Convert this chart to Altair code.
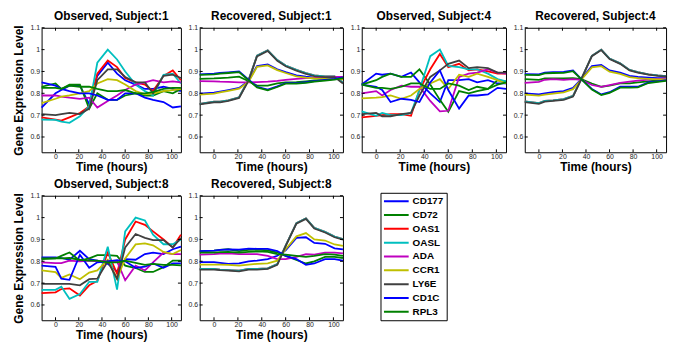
import altair as alt
import pandas as pd

TIMES = [-12, 0, 5, 12, 21, 29, 36, 45, 53, 60, 69, 77, 84, 93, 101, 108]
GENES = ["CD177", "CD72", "OAS1", "OASL", "ADA", "CCR1", "LY6E", "CD1C", "RPL3"]
COLORS = ["#0000ff", "#008000", "#ff0000", "#00bfbf", "#bf00bf", "#bfbf00", "#404040", "#0000ff", "#008000"]
X_TICKS = [0, 20, 40, 60, 80, 100]
Y_TICKS = [0.6, 0.7, 0.8, 0.9, 1.0, 1.1]
X_DOMAIN = [-12, 108]
Y_DOMAIN = [0.53, 1.1]

obs1 = {
    "CD177": [0.735, 0.80, 0.815, 0.835, 0.835, 0.75, 0.88, 0.94, 0.89, 0.86, 0.84, 0.82, 0.82, 0.83, 0.82, 0.81],
    "CD72": [0.83, 0.845, 0.82, 0.84, 0.84, 0.73, 0.80, 0.77, 0.77, 0.79, 0.80, 0.79, 0.79, 0.81, 0.80, 0.82],
    "OAS1": [0.69, 0.68, 0.675, 0.69, 0.71, 0.74, 0.89, 0.95, 0.92, 0.87, 0.85, 0.84, 0.81, 0.88, 0.905, 0.86],
    "OASL": [0.68, 0.678, 0.67, 0.665, 0.695, 0.74, 0.94, 1.0, 0.955, 0.90, 0.84, 0.81, 0.79, 0.885, 0.89, 0.845],
    "ADA": [0.79, 0.79, 0.785, 0.78, 0.775, 0.78, 0.735, 0.765, 0.79, 0.815, 0.84, 0.85, 0.86, 0.85, 0.855, 0.85],
    "CCR1": [0.755, 0.775, 0.785, 0.79, 0.80, 0.81, 0.845, 0.865, 0.86, 0.84, 0.81, 0.795, 0.80, 0.81, 0.815, 0.82],
    "LY6E": [0.705, 0.70, 0.705, 0.71, 0.705, 0.73, 0.86, 0.91, 0.91, 0.875, 0.85, 0.85, 0.80, 0.88, 0.885, 0.87],
    "CD1C": [0.85, 0.835, 0.82, 0.81, 0.80, 0.80, 0.79, 0.77, 0.77, 0.80, 0.80, 0.78, 0.77, 0.76, 0.735, 0.74],
    "RPL3": [0.825, 0.825, 0.82, 0.835, 0.83, 0.83, 0.82, 0.81, 0.81, 0.815, 0.80, 0.80, 0.805, 0.82, 0.825, 0.825],
}

rec1 = {
    "CD177": [0.798, 0.803, 0.808, 0.815, 0.825, 0.857, 0.925, 0.932, 0.91, 0.897, 0.882, 0.876, 0.872, 0.871, 0.87, 0.868],
    "CD72": [0.866, 0.868, 0.87, 0.872, 0.876, 0.855, 0.835, 0.835, 0.845, 0.85, 0.851, 0.855, 0.859, 0.862, 0.866, 0.872],
    "OAS1": [0.752, 0.762, 0.762, 0.768, 0.782, 0.862, 0.972, 0.997, 0.952, 0.927, 0.907, 0.892, 0.882, 0.877, 0.877, 0.85],
    "OASL": [0.752, 0.762, 0.762, 0.768, 0.782, 0.862, 0.972, 0.997, 0.952, 0.927, 0.907, 0.892, 0.882, 0.877, 0.877, 0.85],
    "ADA": [0.856, 0.855, 0.853, 0.852, 0.85, 0.85, 0.851, 0.853, 0.857, 0.862, 0.866, 0.869, 0.871, 0.873, 0.875, 0.875],
    "CCR1": [0.794, 0.799, 0.804, 0.811, 0.821, 0.853, 0.921, 0.928, 0.906, 0.893, 0.878, 0.872, 0.868, 0.867, 0.866, 0.864],
    "LY6E": [0.749, 0.759, 0.759, 0.765, 0.779, 0.859, 0.969, 0.994, 0.949, 0.924, 0.904, 0.889, 0.879, 0.874, 0.874, 0.845],
    "CD1C": [0.887, 0.89, 0.893, 0.896, 0.90, 0.862, 0.83, 0.817, 0.832, 0.847, 0.847, 0.851, 0.856, 0.861, 0.866, 0.873],
    "RPL3": [0.884, 0.887, 0.89, 0.893, 0.897, 0.859, 0.827, 0.814, 0.829, 0.844, 0.844, 0.848, 0.853, 0.858, 0.863, 0.87],
}

obs4 = {
    "CD177": [0.84, 0.89, 0.885, 0.89, 0.875, 0.895, 0.85, 0.80, 0.76, 0.86, 0.86, 0.865, 0.85, 0.86, 0.845, 0.845],
    "CD72": [0.84, 0.86, 0.875, 0.89, 0.875, 0.875, 0.91, 0.84, 0.77, 0.715, 0.81, 0.80, 0.81, 0.82, 0.86, 0.855],
    "OAS1": [0.69, 0.697, 0.70, 0.705, 0.705, 0.697, 0.815, 0.91, 0.98, 0.92, 0.935, 0.905, 0.91, 0.90, 0.89, 0.89],
    "OASL": [0.717, 0.697, 0.71, 0.70, 0.70, 0.71, 0.815, 0.97, 1.0, 0.925, 0.92, 0.91, 0.91, 0.89, 0.865, 0.855],
    "ADA": [0.80, 0.81, 0.79, 0.815, 0.835, 0.83, 0.83, 0.765, 0.717, 0.72, 0.875, 0.89, 0.895, 0.91, 0.895, 0.89],
    "CCR1": [0.777, 0.78, 0.782, 0.79, 0.775, 0.79, 0.82, 0.845, 0.865, 0.82, 0.885, 0.875, 0.89, 0.875, 0.86, 0.845],
    "LY6E": [0.705, 0.71, 0.695, 0.695, 0.705, 0.71, 0.79, 0.875, 0.905, 0.935, 0.95, 0.915, 0.92, 0.915, 0.895, 0.895],
    "CD1C": [0.84, 0.83, 0.815, 0.76, 0.775, 0.77, 0.76, 0.85, 0.905, 0.815, 0.73, 0.79, 0.79, 0.795, 0.825, 0.82],
    "RPL3": [0.84, 0.825, 0.825, 0.82, 0.83, 0.845, 0.845, 0.82, 0.82, 0.845, 0.835, 0.815, 0.83, 0.82, 0.84, 0.85],
}

rec4 = {
    "CD177": [0.80, 0.795, 0.80, 0.805, 0.81, 0.825, 0.865, 0.925, 0.93, 0.905, 0.895, 0.88, 0.875, 0.872, 0.87, 0.87],
    "CD72": [0.865, 0.862, 0.868, 0.868, 0.868, 0.87, 0.865, 0.845, 0.83, 0.835, 0.845, 0.845, 0.85, 0.855, 0.86, 0.865],
    "OAS1": [0.763, 0.755, 0.765, 0.768, 0.773, 0.788, 0.865, 0.972, 1.0, 0.959, 0.937, 0.907, 0.897, 0.887, 0.882, 0.879],
    "OASL": [0.763, 0.755, 0.765, 0.768, 0.773, 0.788, 0.865, 0.972, 1.0, 0.959, 0.937, 0.907, 0.897, 0.887, 0.882, 0.879],
    "ADA": [0.848, 0.852, 0.862, 0.865, 0.862, 0.865, 0.862, 0.838, 0.83, 0.838, 0.848, 0.853, 0.858, 0.863, 0.866, 0.868],
    "CCR1": [0.794, 0.789, 0.794, 0.799, 0.804, 0.819, 0.862, 0.919, 0.924, 0.899, 0.889, 0.874, 0.869, 0.866, 0.864, 0.864],
    "LY6E": [0.76, 0.752, 0.762, 0.765, 0.77, 0.785, 0.865, 0.97, 0.998, 0.957, 0.935, 0.905, 0.895, 0.885, 0.88, 0.877],
    "CD1C": [0.888, 0.887, 0.895, 0.897, 0.898, 0.905, 0.865, 0.82, 0.795, 0.805, 0.83, 0.83, 0.83, 0.85, 0.855, 0.86],
    "RPL3": [0.884, 0.883, 0.891, 0.893, 0.894, 0.901, 0.865, 0.817, 0.792, 0.802, 0.826, 0.826, 0.827, 0.847, 0.852, 0.857],
}

obs8 = {
    "CD177": [0.818, 0.818, 0.815, 0.807, 0.848, 0.81, 0.803, 0.788, 0.754, 0.81, 0.807, 0.833, 0.84, 0.833, 0.855, 0.867],
    "CD72": [0.813, 0.813, 0.825, 0.84, 0.803, 0.813, 0.828, 0.828, 0.825, 0.78, 0.769, 0.751, 0.751, 0.773, 0.803, 0.803],
    "OAS1": [0.654, 0.658, 0.673, 0.676, 0.643, 0.69, 0.71, 0.84, 0.743, 0.90, 0.982, 0.967, 0.937, 0.90, 0.863, 0.922],
    "OASL": [0.669, 0.669, 0.684, 0.628, 0.65, 0.706, 0.706, 0.867, 0.67, 0.937, 1.0, 0.987, 0.922, 0.878, 0.878, 0.90],
    "ADA": [0.795, 0.792, 0.792, 0.803, 0.80, 0.803, 0.80, 0.803, 0.80, 0.713, 0.78, 0.758, 0.795, 0.84, 0.833, 0.833],
    "CCR1": [0.758, 0.75, 0.724, 0.74, 0.718, 0.748, 0.758, 0.807, 0.72, 0.813, 0.877, 0.882, 0.873, 0.843, 0.833, 0.852],
    "LY6E": [0.697, 0.697, 0.697, 0.697, 0.69, 0.718, 0.72, 0.80, 0.72, 0.863, 0.925, 0.907, 0.897, 0.897, 0.863, 0.907],
    "CD1C": [0.78, 0.775, 0.72, 0.715, 0.83, 0.77, 0.795, 0.80, 0.805, 0.80, 0.77, 0.775, 0.79, 0.77, 0.79, 0.79],
    "RPL3": [0.81, 0.813, 0.813, 0.815, 0.807, 0.803, 0.803, 0.795, 0.795, 0.803, 0.793, 0.784, 0.788, 0.784, 0.784, 0.781],
}

rec8 = {
    "CD177": [0.796, 0.796, 0.793, 0.788, 0.79, 0.80, 0.803, 0.81, 0.825, 0.85, 0.907, 0.91, 0.884, 0.88, 0.859, 0.855],
    "CD72": [0.847, 0.849, 0.852, 0.855, 0.847, 0.852, 0.853, 0.85, 0.84, 0.825, 0.806, 0.79, 0.80, 0.82, 0.82, 0.815],
    "OAS1": [0.765, 0.765, 0.762, 0.76, 0.757, 0.765, 0.765, 0.768, 0.787, 0.872, 0.975, 0.997, 0.953, 0.935, 0.913, 0.902],
    "OASL": [0.765, 0.765, 0.762, 0.76, 0.757, 0.765, 0.765, 0.768, 0.787, 0.872, 0.975, 0.997, 0.953, 0.935, 0.913, 0.902],
    "ADA": [0.83, 0.833, 0.835, 0.836, 0.833, 0.833, 0.833, 0.825, 0.81, 0.81, 0.82, 0.833, 0.83, 0.84, 0.84, 0.836],
    "CCR1": [0.785, 0.785, 0.785, 0.784, 0.78, 0.785, 0.788, 0.79, 0.803, 0.855, 0.914, 0.929, 0.90, 0.895, 0.877, 0.87],
    "LY6E": [0.762, 0.762, 0.759, 0.757, 0.754, 0.762, 0.762, 0.765, 0.784, 0.869, 0.972, 0.994, 0.95, 0.932, 0.91, 0.899],
    "CD1C": [0.847, 0.849, 0.852, 0.855, 0.853, 0.858, 0.857, 0.857, 0.847, 0.825, 0.81, 0.784, 0.79, 0.81, 0.81, 0.803],
    "RPL3": [0.84, 0.84, 0.842, 0.843, 0.84, 0.843, 0.845, 0.843, 0.833, 0.83, 0.825, 0.82, 0.825, 0.833, 0.83, 0.825],
}

PANELS = [
    (obs1, "Observed, Subject:1", 141, 126, True),
    (rec1, "Recovered, Subject:1", 145, 126, False),
    (obs4, "Observed, Subject:4", 146, 126, False),
    (rec4, "Recovered, Subject:4", 143, 126, False),
    (obs8, "Observed, Subject:8", 141, 126, True),
    (rec8, "Recovered, Subject:8", 145, 126, False),
]

FONT = "Liberation Sans"

legend = alt.Legend(
    orient="none", legendX=343, legendY=167, symbolType="stroke", symbolSize=625,
    symbolStrokeWidth=2, labelFontSize=10, labelFontWeight="bold", labelColor="black",
    labelFont=FONT, strokeColor="black", fillColor="white", padding=2.5,
    clipHeight=12, rowPadding=2.0, labelOffset=3,
)


def long_df(panel):
    rows = []
    for g in GENES:
        for t, v in zip(TIMES, panel[g]):
            rows.append({"gene": g, "t": t, "v": v})
    return pd.DataFrame(rows)


def make_panel(panel, title, w, h, show_ytitle):
    xs = alt.Scale(domain=X_DOMAIN, nice=False, zero=False)
    ys = alt.Scale(domain=Y_DOMAIN, nice=False, zero=False)
    xaxis = alt.Axis(values=X_TICKS, title="Time (hours)")
    if show_ytitle:
        yaxis = alt.Axis(values=Y_TICKS, format="~g", title="Gene Expression Level")
    else:
        yaxis = alt.Axis(values=Y_TICKS, format="~g", title=None)
    lines = alt.Chart(long_df(panel)).mark_line(strokeWidth=1.8).encode(
        x=alt.X("t:Q", scale=xs, axis=xaxis),
        y=alt.Y("v:Q", scale=ys, axis=yaxis),
        color=alt.Color("gene:N", scale=alt.Scale(domain=GENES, range=COLORS),
                        sort=GENES, title=None, legend=legend),
    )
    xt = pd.DataFrame({"t": X_TICKS})
    yt = pd.DataFrame({"v": Y_TICKS})
    bx = alt.Chart(xt).mark_rule(color="black", strokeWidth=1).encode(
        x=alt.X("t:Q", scale=xs, axis=xaxis), y=alt.value(h), y2=alt.value(h - 3))
    tx = alt.Chart(xt).mark_rule(color="black", strokeWidth=1).encode(
        x=alt.X("t:Q", scale=xs, axis=xaxis), y=alt.value(0), y2=alt.value(3))
    ly = alt.Chart(yt).mark_rule(color="black", strokeWidth=1).encode(
        y=alt.Y("v:Q", scale=ys, axis=yaxis), x=alt.value(0), x2=alt.value(3))
    ry = alt.Chart(yt).mark_rule(color="black", strokeWidth=1).encode(
        y=alt.Y("v:Q", scale=ys, axis=yaxis), x=alt.value(w - 3), x2=alt.value(w))
    return alt.layer(lines, bx, tx, ly, ry).properties(width=w, height=h, title=title)


charts = [make_panel(*p) for p in PANELS]

chart = alt.concat(
    *charts, columns=4, spacing={"row": 44, "column": 19}, bounds="flush"
).properties(
    padding={"left": 3, "top": -1, "right": 0, "bottom": 0}
).configure_view(
    stroke="black", strokeWidth=1
).configure_axis(
    labelFont=FONT, labelFontSize=7, labelColor="#262626", titleFont=FONT,
    titleFontSize=12, titleFontWeight="bold", titleColor="black",
    grid=False, ticks=False, domain=False,
).configure_axisX(
    labelPadding=0, titlePadding=2
).configure_axisY(
    labelPadding=2, titlePadding=5
).configure_title(
    font=FONT, fontSize=12, fontWeight="bold", color="black", offset=1, anchor="middle"
)

chart.save("out.html", embed_options={"renderer": "svg", "actions": False})
